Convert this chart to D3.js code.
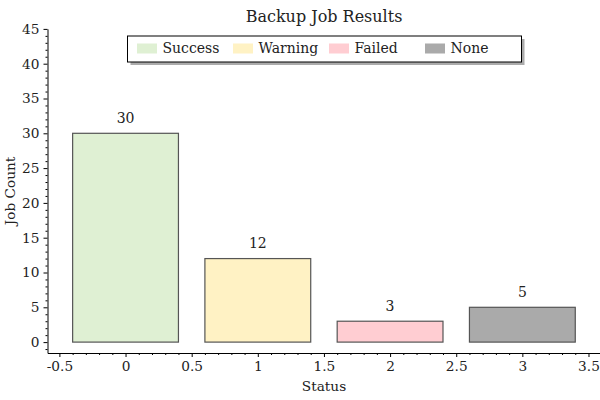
<!DOCTYPE html>
<html><head><meta charset="utf-8">
<script src="https://cdn.jsdelivr.net/npm/d3@7"></script>
<style>body{margin:0;background:#fff}svg{display:block}text{font-family:"DejaVu Serif",serif;fill:#222}</style>
</head><body><svg id="c" width="600" height="400"></svg>
<script>
const categories = ["Success", "Warning", "Failed", "None"];
const positions = [0, 1, 2, 3];
const counts = [30, 12, 3, 5];
const colors = ["#dff0d3", "#fff2c4", "#ffcdd2", "#aaaaaa"];
const xTicks = [-0.5, 0, 0.5, 1, 1.5, 2, 2.5, 3, 3.5];
const yTicks = [0, 5, 10, 15, 20, 25, 30, 35, 40, 45];

const svg = d3.select("#c");
const x = d3.scaleLinear().domain([-0.59, 3.587]).range([47.5, 600]);
const y = d3.scaleLinear().domain([-1.566, 45]).range([353, 28.9]);
const barW = 0.8;
const fs = 13.7;

// bars
svg.append("g").selectAll("rect").data(counts).join("rect")
  .attr("x", (d,i) => x(positions[i] - barW/2))
  .attr("width", (d,i) => x(positions[i] + barW/2) - x(positions[i] - barW/2))
  .attr("y", d => y(d))
  .attr("height", d => y(0) - y(d))
  .attr("fill", (d,i) => colors[i])
  .attr("stroke", "#555").attr("stroke-width", 1.2);

// value labels
svg.append("g").selectAll("text").data(counts).join("text")
  .attr("x", (d,i) => x(positions[i]))
  .attr("y", d => y(d) - 10.5)
  .attr("text-anchor", "middle").attr("font-size", 14)
  .text(d => d);

// axes
const fmt = d => (d < 0 ? "-" : "") + d3.format("")(Math.abs(d));
svg.append("g").attr("transform", `translate(0,${y.range()[0]})`)
  .call(d3.axisBottom(x).tickValues(xTicks).tickFormat(fmt).tickSize(4).tickSizeOuter(0).tickPadding(4));
const xMinor = d3.range(-5, 36).map(v => v/10).filter(v => Math.abs(v*2 - Math.round(v*2)) > 1e-6);
svg.append("g").attr("transform", `translate(0,${y.range()[0]})`)
  .call(d3.axisBottom(x).tickValues(xMinor).tickFormat("").tickSize(2).tickSizeOuter(0))
  .select(".domain").remove();
svg.append("g").attr("transform", `translate(${x.range()[0]},0)`)
  .call(d3.axisLeft(y).tickValues(yTicks).tickSize(4).tickSizeOuter(0).tickPadding(4));
const yMinor = d3.range(-1, 46).filter(v => v % 5 !== 0);
svg.append("g").attr("transform", `translate(${x.range()[0]},0)`)
  .call(d3.axisLeft(y).tickValues(yMinor).tickFormat("").tickSize(2).tickSizeOuter(0))
  .select(".domain").remove();
svg.selectAll(".tick text").attr("font-size", fs).attr("font-family", "DejaVu Serif").attr("fill", "#222");
svg.selectAll(".domain, .tick line").attr("stroke", "#000");

// titles
svg.append("text").attr("x", 324).attr("y", 22).attr("text-anchor", "middle").attr("font-size", 16).text("Backup Job Results");
svg.append("text").attr("x", 324).attr("y", 391).attr("text-anchor", "middle").attr("font-size", fs).text("Status");
svg.append("text").attr("transform", "translate(15,191) rotate(-90)").attr("text-anchor", "middle").attr("font-size", fs).text("Job Count");

// legend
const lg = svg.append("g");
lg.append("rect").attr("x", 130.5).attr("y", 39).attr("width", 394).attr("height", 26).attr("fill", "#888").attr("opacity", 0.7);
lg.append("rect").attr("x", 127.5).attr("y", 36).attr("width", 394).attr("height", 26).attr("fill", "#fff").attr("stroke", "#000").attr("stroke-width", 1);
const items = lg.selectAll("g.item").data(categories).join("g").attr("class", "item")
  .attr("transform", (d,i) => `translate(${137 + i*96},0)`);
items.append("rect").attr("x", 0).attr("y", 43.5).attr("width", 20).attr("height", 10).attr("fill", (d,i) => colors[i]);
items.append("text").attr("x", 25.5).attr("y", 53).attr("font-size", 14).text(d => d);
</script></body></html>
